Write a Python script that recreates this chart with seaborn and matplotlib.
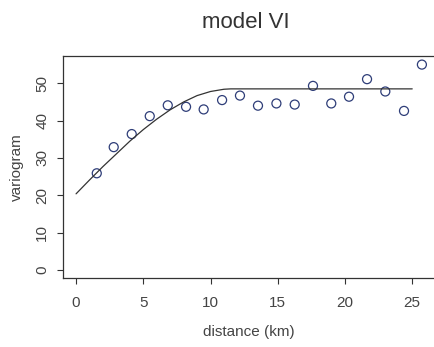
import matplotlib
matplotlib.use("Agg")
import matplotlib.pyplot as plt
import seaborn as sns
import pandas as pd

# empirical variogram points
distance = [1.54, 2.80, 4.14, 5.48, 6.82, 8.18, 9.49, 10.86, 12.19, 13.53,
            14.90, 16.26, 17.62, 18.98, 20.30, 21.64, 23.00, 24.39, 25.72]
variogram = [25.9, 32.9, 36.4, 41.2, 44.1, 43.7, 43.0, 45.5, 46.7, 44.0,
             44.6, 44.3, 49.3, 44.6, 46.4, 51.1, 47.8, 42.6, 55.0]

# fitted model curve
model_x = [0, 1, 2, 3, 4, 5, 6, 7, 8, 9, 10, 11, 11.5, 25]
model_y = [20.4, 24.1, 27.7, 31.1, 34.5, 37.6, 40.4, 42.9, 45.0, 46.7,
           47.8, 48.4, 48.5, 48.5]

x_ticks = [0, 5, 10, 15, 20, 25]
y_ticks = [0, 10, 20, 30, 40, 50]

sns.set_style("white")
plt.rcParams['font.family'] = ['Liberation Sans', 'DejaVu Sans']

fig = plt.figure(figsize=(4.34, 3.47), dpi=100)
ax = fig.add_axes([0.1452, 0.1988, 0.8548, 0.6398])

pts = pd.DataFrame({"distance": distance, "variogram": variogram})
mdl = pd.DataFrame({"distance": model_x, "variogram": model_y})

sns.lineplot(data=mdl, x="distance", y="variogram", ax=ax, color="#333333",
             linewidth=0.9, sort=True)
sns.scatterplot(data=pts, x="distance", y="variogram", ax=ax, marker="o",
                facecolor="none", edgecolor="#2E3D78", linewidth=0.9, s=42)

ax.set_xlim(-0.97, 26.62)
ax.set_ylim(-2.14, 57.3)
ax.set_xticks(x_ticks)
ax.set_yticks(y_ticks)
ax.set_yticklabels([str(v) for v in y_ticks], rotation=90, va="center")

for s in ["left", "bottom", "top"]:
    ax.spines[s].set_visible(True)
    ax.spines[s].set_color("#333333")
    ax.spines[s].set_linewidth(0.9)
ax.spines["right"].set_visible(False)

ax.tick_params(axis="both", which="both", direction="out", length=4, width=0.8,
               color="#333333", labelsize=11, labelcolor="#444444",
               bottom=True, left=True)
ax.tick_params(axis="x", pad=9)
ax.tick_params(axis="y", pad=6)

ax.set_xlabel("distance (km)", fontsize=11, color="#444444", labelpad=11)
ax.set_ylabel("variogram", fontsize=11, color="#444444", labelpad=8)
fig.text(0.567, 0.935, "model VI", ha="center", va="center", fontsize=16,
         color="#333333")

fig.savefig("out.png", dpi=100)
